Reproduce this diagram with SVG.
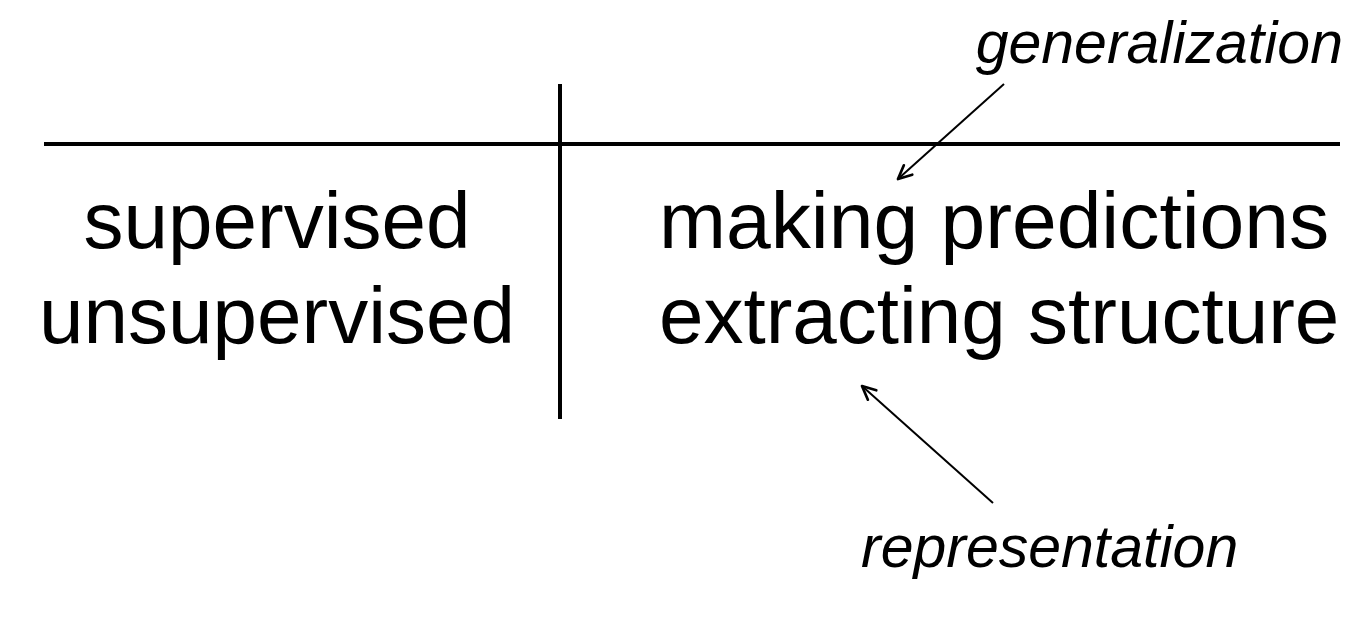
<svg xmlns="http://www.w3.org/2000/svg" width="1370" height="618" viewBox="0 0 1370 618">
<style>
.main{font-family:"Liberation Sans",Arial,sans-serif;font-size:80px;fill:#000}
.ann{font-family:"Liberation Sans",Arial,sans-serif;font-size:59px;font-style:italic;fill:#000}
.rule{stroke:#000;stroke-width:4;fill:none}
.conn{stroke:#000;stroke-width:2;fill:none;marker-end:url(#vhead)}
</style>
<defs>
<marker id="vhead" viewBox="0 0 20 20" refX="18" refY="10" markerWidth="18" markerHeight="18" markerUnits="userSpaceOnUse" orient="auto">
<path d="M3,3 L18,10 L3,17" fill="none" stroke="#000" stroke-width="3" stroke-linecap="round" stroke-linejoin="round"/>
</marker>
</defs>
<rect width="1370" height="618" fill="#fff"/>
<g id="table">
<line class="rule" x1="44" y1="144" x2="1340" y2="144"/>
<line class="rule" x1="560" y1="84" x2="560" y2="419"/>
</g>
<g id="left-col">
<text class="main" x="277" y="248" text-anchor="middle">supervised</text>
<text class="main" x="277" y="343" text-anchor="middle">unsupervised</text>
</g>
<g id="right-col">
<text class="main" transform="translate(659,248) scale(1.005,1)">making predictions</text>
<text class="main" x="659" y="343">extracting structure</text>
</g>
<g id="generalization">
<text class="ann" x="1343" y="63" text-anchor="end">generalization</text>
</g>
<g id="representation">
<text class="ann" x="861" y="567">representation</text>
</g>
<g id="connectors">
<line class="conn" x1="1004" y1="84" x2="898" y2="179"/>
<line class="conn" x1="993" y1="503" x2="862" y2="386"/>
</g>
</svg>
